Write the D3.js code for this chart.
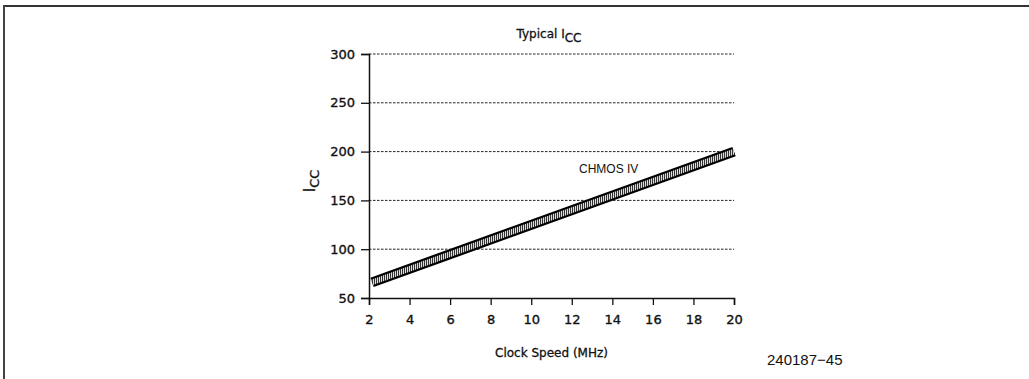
<!DOCTYPE html>
<html>
<meta charset="utf-8">
<style>
body { margin: 0; background: #fff; }
text { fill: #111; }
</style>
<body>
<script src="https://d3js.org/d3.v7.min.js"></script>
<script>
var width = 1029,
    height = 379;

// data
var xTicks = [2, 4, 6, 8, 10, 12, 14, 16, 18, 20];
var yTicks = [50, 100, 150, 200, 250, 300];
var gridValues = [100, 150, 200, 250, 300];
var bandSpeed = [2.15, 20];
var bandIcc = [66, 200];

var svg = d3.select("body").append("svg")
    .attr("width", width)
    .attr("height", height);

// frame lines (top and left)
svg.append("line").attr("x1", 3).attr("x2", width).attr("y1", 6).attr("y2", 6)
    .style("stroke", "#333").style("stroke-width", 2);
svg.append("line").attr("x1", 4).attr("x2", 4).attr("y1", 5).attr("y2", height)
    .style("stroke", "#444").style("stroke-width", 2);

var x = d3.scaleLinear().domain([2, 20]).range([369, 734]);
var y = d3.scaleLinear().domain([50, 300]).range([298, 54]);

// dashed grid
svg.selectAll(".grid")
    .data(gridValues)
    .enter().append("line")
    .attr("class", "grid")
    .attr("x1", x(2)).attr("x2", x(20))
    .attr("y1", function(d) { return y(d); })
    .attr("y2", function(d) { return y(d); })
    .style("stroke", "#222")
    .style("stroke-width", 1)
    .style("stroke-dasharray", "2.5,1.5");

var xAxis = svg.append("g")
    .attr("transform", "translate(0," + y(50) + ")")
    .call(d3.axisBottom(x).tickValues(xTicks).tickSize(7).tickPadding(10).tickFormat(d3.format("d")));
var yAxis = svg.append("g")
    .attr("transform", "translate(" + x(2) + ",0)")
    .call(d3.axisLeft(y).tickValues(yTicks).tickSize(8).tickPadding(6).tickFormat(d3.format("d")));

[xAxis, yAxis].forEach(function(g) {
  g.select(".domain").style("stroke", "#111").style("stroke-width", 1.5);
  g.selectAll(".tick line").style("stroke", "#111").style("stroke-width", 1.3);
  g.selectAll(".tick text")
    .style("font-family", "DejaVu Sans")
    .style("font-size", "13px")
    .style("fill", "#111")
    .style("stroke", "#111")
    .style("stroke-width", 0.35);
});

// hatched band
var defs = svg.append("defs");
var pat = defs.append("pattern")
    .attr("id", "hatch")
    .attr("patternUnits", "userSpaceOnUse")
    .attr("width", 2).attr("height", 4);
pat.append("rect").attr("width", 2).attr("height", 4).style("fill", "#ddd");
pat.append("rect").attr("width", 1).attr("height", 4).style("fill", "#333");

var bandData = bandSpeed.map(function(s, i) { return [s, bandIcc[i]]; });
var line = d3.line()
    .x(function(d) { return x(d[0]); })
    .y(function(d) { return y(d[1]); });

svg.append("path")
    .attr("d", line(bandData))
    .style("fill", "none")
    .style("stroke", "#000")
    .style("stroke-width", 10)
    .style("stroke-linecap", "butt");
svg.append("path")
    .attr("d", line(bandData))
    .style("fill", "none")
    .style("stroke", "url(#hatch)")
    .style("stroke-width", 5.5)
    .style("stroke-linecap", "butt");

// labels
var title = svg.append("text")
    .attr("x", 549).attr("y", 38)
    .attr("text-anchor", "middle")
    .style("font-family", "DejaVu Sans")
    .style("font-size", "12px")
    .style("stroke", "#111").style("stroke-width", 0.3);
title.append("tspan").text("Typical I");
title.append("tspan").attr("dy", 4).style("font-size", "12px").text("CC");

var ylab = svg.append("text")
    .attr("transform", "translate(315,181) rotate(-90)")
    .attr("text-anchor", "middle")
    .style("font-family", "DejaVu Sans")
    .style("font-size", "15px")
    .style("stroke", "#111").style("stroke-width", 0.3);
ylab.append("tspan").text("I");
ylab.append("tspan").attr("dy", 4).style("font-size", "13px").text("CC");

svg.append("text")
    .attr("x", x(11)).attr("y", 357)
    .attr("text-anchor", "middle")
    .style("font-family", "DejaVu Sans")
    .style("font-size", "12px")
    .style("stroke", "#111").style("stroke-width", 0.3)
    .text("Clock Speed (MHz)");

svg.append("text")
    .attr("x", 579).attr("y", 173)
    .style("font-family", "Liberation Sans")
    .style("font-size", "12px")
    .text("CHMOS IV");

svg.append("text")
    .attr("x", 767).attr("y", 365)
    .style("font-family", "Liberation Sans")
    .style("font-size", "15px")
    .text("240187\u221245");
</script>
</body>
</html>
